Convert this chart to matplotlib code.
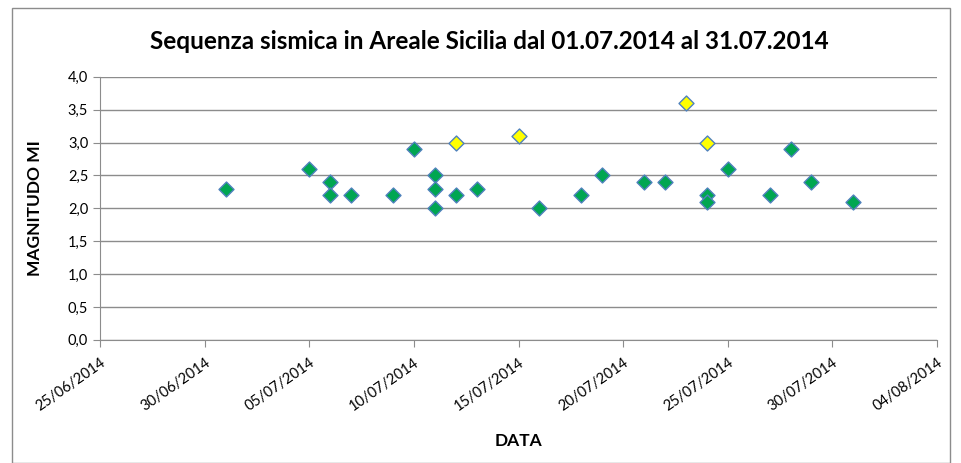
import matplotlib
matplotlib.use("Agg")
import matplotlib.pyplot as plt
import matplotlib.dates as mdates
from matplotlib.ticker import FuncFormatter, MultipleLocator
from matplotlib.patches import Rectangle
import datetime as dt

plt.rcParams['font.family'] = ['Lato', 'DejaVu Sans']

# events (green diamonds)
green_dates = ['01/07/2014', '05/07/2014', '06/07/2014', '06/07/2014', '07/07/2014',
               '09/07/2014', '10/07/2014', '11/07/2014', '11/07/2014', '11/07/2014',
               '12/07/2014', '13/07/2014', '16/07/2014', '18/07/2014', '19/07/2014',
               '21/07/2014', '22/07/2014', '24/07/2014', '24/07/2014', '25/07/2014',
               '27/07/2014', '28/07/2014', '29/07/2014', '31/07/2014']
green_mag = [2.3, 2.6, 2.4, 2.2, 2.2,
             2.2, 2.9, 2.5, 2.3, 2.0,
             2.2, 2.3, 2.0, 2.2, 2.5,
             2.4, 2.4, 2.2, 2.1, 2.6,
             2.2, 2.9, 2.4, 2.1]

# events >= 3.0 (yellow diamonds)
yellow_dates = ['12/07/2014', '15/07/2014', '23/07/2014', '24/07/2014']
yellow_mag = [3.0, 3.1, 3.6, 3.0]

x_start = '25/06/2014'
x_end = '04/08/2014'


def to_date(s):
    return dt.datetime.strptime(s, '%d/%m/%Y')


fig = plt.figure(figsize=(9.62, 4.63), dpi=100)
ax = fig.add_axes([0.104, 0.266, 0.870, 0.568])

fig.patches.append(Rectangle((12 / 962, 0.0), 1 - 24 / 962, 1 - 8 / 463,
                             transform=fig.transFigure, fill=False,
                             edgecolor='#8c8c8c', linewidth=1.0))

ax.scatter([to_date(d) for d in green_dates], green_mag, marker='D', s=58,
           facecolor='#00A651', edgecolor='#4F81BD', linewidth=1.0, zorder=3)
ax.scatter([to_date(d) for d in yellow_dates], yellow_mag, marker='D', s=58,
           facecolor='#FFFF00', edgecolor='#4F81BD', linewidth=1.0, zorder=3)

ax.set_xlim(to_date(x_start), to_date(x_end))
ax.set_ylim(0, 4.0)
ticks = [to_date(x_start) + dt.timedelta(days=5 * i) for i in range(9)]
ax.set_xticks(ticks)
ax.xaxis.set_major_formatter(mdates.DateFormatter('%d/%m/%Y'))
ax.yaxis.set_major_locator(MultipleLocator(0.5))
ax.yaxis.set_major_formatter(FuncFormatter(lambda v, p: f'{v:.1f}'.replace('.', ',')))

ax.grid(axis='y', color='#8c8c8c', linewidth=1.0)
ax.set_axisbelow(True)
for s in ['top', 'right']:
    ax.spines[s].set_visible(False)
for s in ['left', 'bottom']:
    ax.spines[s].set_color('#8c8c8c')
ax.tick_params(axis='both', colors='#8c8c8c', labelcolor='black', labelsize=10.5, length=5)
ax.tick_params(axis='x', pad=6)
plt.setp(ax.get_xticklabels(), rotation=35, ha='right', rotation_mode='anchor')

ax.set_title('Sequenza sismica in Areale Sicilia dal 01.07.2014 al 31.07.2014',
             fontsize=17.5, fontweight='bold', pad=20, x=0.465)
ax.set_ylabel('MAGNITUDO MI', fontsize=12.5, fontweight='bold', labelpad=18)
ax.set_xlabel('DATA', fontsize=12.5, fontweight='bold', labelpad=14)

fig.savefig('out.png', dpi=100)
